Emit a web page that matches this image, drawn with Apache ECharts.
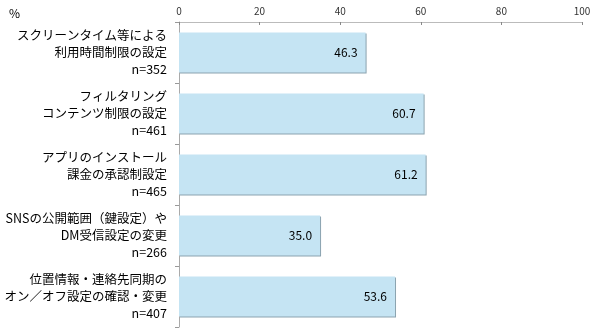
<!DOCTYPE html>
<html><head><meta charset="utf-8">
<script src="https://cdn.jsdelivr.net/npm/echarts@6/dist/echarts.min.js"></script>
<style>html,body{margin:0;padding:0;background:#fff}#c{width:600px;height:329px}</style>
</head><body><div id="c"></div>
<script>
var categories = [
  "スクリーンタイム等による\n利用時間制限の設定\nn=352",
  "フィルタリング\nコンテンツ制限の設定\nn=461",
  "アプリのインストール\n課金の承認制設定\nn=465",
  "SNSの公開範囲（鍵設定）や\nDM受信設定の変更\nn=266",
  "位置情報・連絡先同期の\nオン／オフ設定の確認・変更\nn=407"
];
var values = [46.3, 60.7, 61.2, 35.0, 53.6];
var unitLabel = "%";
var font = '"Noto Sans CJK JP", "Noto Sans", sans-serif';
var chart = echarts.init(document.getElementById('c'));
chart.setOption({
  animation: false,
  textStyle: {fontFamily: font},
  graphic: [{type: 'text', left: 9, top: 7, style: {text: unitLabel, fontSize: 12, fill: '#000', fontFamily: font}}],
  grid: {left: 179, right: 18, top: 22, bottom: 2},
  xAxis: {
    type: 'value', position: 'top', min: 0, max: 100, interval: 20,
    axisLine: {show: true, lineStyle: {color: '#bbb'}},
    axisTick: {show: true, length: 3, inside: true, lineStyle: {color: '#888'}},
    axisLabel: {fontSize: 10, color: '#333', margin: 6},
    splitLine: {show: false}
  },
  yAxis: {
    type: 'category', inverse: true, data: categories,
    axisLine: {show: true, lineStyle: {color: '#aaa'}},
    axisTick: {show: true, length: 4, lineStyle: {color: '#999'}},
    axisLabel: {fontSize: 12.5, color: '#000', lineHeight: 17, margin: 12, align: 'right'}
  },
  series: [{
    type: 'bar', data: values, barWidth: 40,
    itemStyle: {color: '#c5e4f3', shadowColor: 'rgba(110,140,155,0.8)', shadowOffsetX: 1, shadowOffsetY: 1, shadowBlur: 0},
    label: {show: true, position: 'insideRight', formatter: function(p){return p.value.toFixed(1);}, color: '#000', fontSize: 12, distance: 8}
  }]
});
</script></body></html>
